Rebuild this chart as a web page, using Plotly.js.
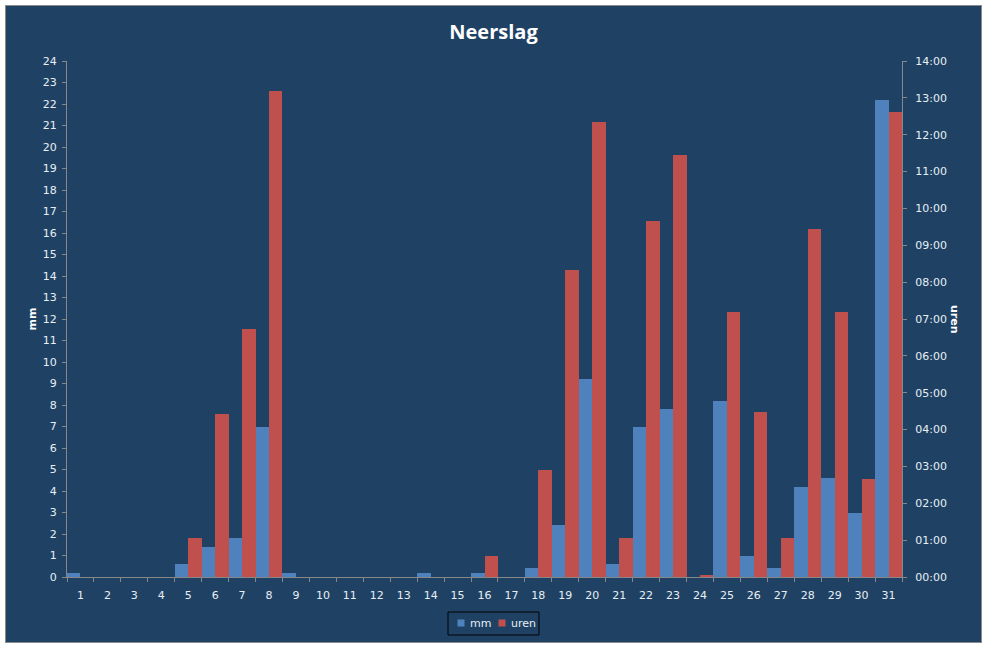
<!DOCTYPE html>
<html>
<head>
<meta charset="utf-8">
<script src="https://cdn.plot.ly/plotly-3.0.1.min.js"></script>
<style>
  html, body { margin: 0; padding: 0; background: #ffffff; }
  #wrap { position: absolute; left: 5px; top: 5px; width: 975px; height: 636px; border: 1px solid #8a8a8a; }
  #chart { width: 975px; height: 636px; }
</style>
</head>
<body>
<div id="wrap"><div id="chart"></div></div>
<script>
// Data
const days = ['1','2','3','4','5','6','7','8','9','10','11','12','13','14','15','16','17','18','19','20','21','22','23','24','25','26','27','28','29','30','31'];
const mm = [0.2,0,0,0,0.6,1.4,1.8,7.0,0.2,0,0,0,0,0.2,0,0.2,0,0.4,2.4,9.2,0.6,7.0,7.8,0,8.2,1.0,0.4,4.2,4.6,3.0,22.2];
const urenHours = [0,0,0,0,1.07,4.41,6.74,13.18,0,0,0,0,0,0,0,0.58,0,2.91,8.34,12.34,1.07,9.67,11.44,0.06,7.18,4.49,1.07,9.43,7.18,2.67,12.61];
const mmTicks = [0,1,2,3,4,5,6,7,8,9,10,11,12,13,14,15,16,17,18,19,20,21,22,23,24];
const hourTickVals = [0,1,2,3,4,5,6,7,8,9,10,11,12,13,14];
const hourTickText = ['00:00','01:00','02:00','03:00','04:00','05:00','06:00','07:00','08:00','09:00','10:00','11:00','12:00','13:00','14:00'];
const seriesNames = ['mm', 'uren'];
const seriesColors = ['#4F81BD', '#C0504D'];

const bg = '#1F4264';
const axisCol = '#878787';
const txtCol = '#E8EEF4';
const font = 'DejaVu Sans, Verdana, sans-serif';

const W = 975, H = 636;
const M = { l: 61, r: 79, t: 55, b: 65 };
const PW = W - M.l - M.r, PH = H - M.t - M.b;
// convert container px (relative to chart div) to paper coords
const px = x => (x - M.l) / PW;
const py = y => (H - M.b - y) / PH;

const traces = [
  { type: 'bar', name: seriesNames[0], x: days, y: mm, yaxis: 'y', offsetgroup: 'a',
    marker: { color: seriesColors[0] }, hoverinfo: 'x+y' },
  { type: 'bar', name: seriesNames[1], x: days, y: urenHours, yaxis: 'y2', offsetgroup: 'b',
    marker: { color: seriesColors[1] }, hoverinfo: 'x+y' }
];

// Legend (drawn as decoration, offsets relative to page; div content starts at 6,6)
const o = 6;
const legendShapes = [
  { type: 'rect', xref: 'paper', yref: 'paper', x0: px(448 - o), x1: px(539 - o), y0: py(612 - o), y1: py(635 - o),
    line: { color: '#000000', width: 1 }, fillcolor: 'rgba(0,0,0,0)' },
  { type: 'rect', xref: 'paper', yref: 'paper', x0: px(457.5 - o), x1: px(464.5 - o), y0: py(619.5 - o), y1: py(626.5 - o),
    line: { width: 0 }, fillcolor: seriesColors[0] },
  { type: 'rect', xref: 'paper', yref: 'paper', x0: px(498.5 - o), x1: px(505.5 - o), y0: py(619.5 - o), y1: py(626.5 - o),
    line: { width: 0 }, fillcolor: seriesColors[1] }
];
const legendAnn = [
  { text: seriesNames[0], xref: 'paper', yref: 'paper', x: px(467.5 - o), y: py(623.5 - o), xanchor: 'left', yanchor: 'middle',
    showarrow: false, font: { family: font, size: 11, color: txtCol } },
  { text: seriesNames[1], xref: 'paper', yref: 'paper', x: px(508.5 - o), y: py(623.5 - o), xanchor: 'left', yanchor: 'middle',
    showarrow: false, font: { family: font, size: 11, color: txtCol } }
];

const layout = {
  width: W, height: H,
  paper_bgcolor: bg, plot_bgcolor: bg,
  margin: M,
  barmode: 'group', bargap: 0, bargroupgap: 0,
  font: { family: font, size: 11, color: txtCol },
  title: { text: '<b>Neerslag</b>', font: { family: 'Open Sans, sans-serif', size: 20, color: '#ffffff' },
           x: 0.5, xanchor: 'center', y: 1 - 26/636, yanchor: 'middle', yref: 'container' },
  showlegend: false,
  xaxis: { type: 'category', categoryorder: 'array', categoryarray: days, range: [-0.5, 30.5],
           showline: true, linecolor: axisCol, linewidth: 1, ticks: 'outside', tickson: 'boundaries',
           ticklen: 4, tickcolor: axisCol, showgrid: false, zeroline: false, fixedrange: true,
           ticklabelstandoff: 8,
           tickfont: { family: font, size: 11, color: txtCol } },
  yaxis: { range: [0, 24], tickvals: mmTicks, showline: true, linecolor: axisCol, linewidth: 1,
           ticks: 'outside', ticklen: 4, tickcolor: axisCol, showgrid: false, zeroline: false,
           ticklabelstandoff: 3,
           tickfont: { family: font, size: 11, color: txtCol }, fixedrange: true },
  yaxis2: { range: [0, 14], overlaying: 'y', side: 'right', tickvals: hourTickVals, ticktext: hourTickText,
            showline: true, linecolor: axisCol, linewidth: 1, ticks: 'outside', ticklen: 4, tickcolor: axisCol,
            ticklabelstandoff: 6,
            showgrid: false, zeroline: false, tickfont: { family: font, size: 11, color: txtCol }, fixedrange: true },
  shapes: legendShapes,
  annotations: [
    { text: '<b>mm</b>', xref: 'paper', yref: 'paper', x: -0.0425, y: 0.5, textangle: -90,
      showarrow: false, font: { family: font, size: 11, color: '#ffffff' }, xanchor: 'center', yanchor: 'middle' },
    { text: '<b>uren</b>', xref: 'paper', yref: 'paper', x: 1.0635, y: 0.5, textangle: 90,
      showarrow: false, font: { family: font, size: 11, color: '#ffffff' }, xanchor: 'center', yanchor: 'middle' }
  ].concat(legendAnn)
};

Plotly.newPlot('chart', traces, layout, { displayModeBar: false, staticPlot: true });
</script>
</body>
</html>
